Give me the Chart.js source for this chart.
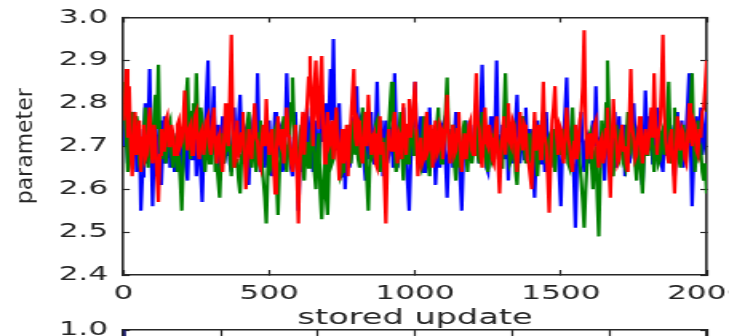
<!DOCTYPE html>
<html>
<head>
<meta charset="utf-8">
<title>parameter trace</title>
<script src="https://cdn.jsdelivr.net/npm/chart.js@4"></script>
<style>
    html, body {
        margin: 0;
        padding: 0;
        background: #fff;
        width: 729px;
        height: 336px;
        overflow: hidden;
    }
    /* both panels are drawn narrow and widened on screen */
    .panel {
        position: absolute;
        left: 0;
        transform-origin: 0 0;
    }
    canvas { display: block; }
</style>
</head>
<body>
<div class="panel" id="trace-wrap" style="top:0"><canvas id="trace" width="456" height="336"></canvas></div>
<div class="panel" id="acf-wrap" style="top:320px"><canvas id="acf" width="456" height="200"></canvas></div>
<script>
// one sample every SAMPLE_EVERY stored updates
const SAMPLE_EVERY = 5;

const xTicks = [0, 500, 1000, 1500, 2000];
const yTicks = [2.4, 2.5, 2.6, 2.7, 2.8, 2.9, 3.0];

const blueChain = [
    2.70, 2.77, 2.74, 2.66, 2.79, 2.69, 2.71, 2.78, 2.76, 2.64, 2.68, 2.74, 2.55, 2.63, 2.72, 2.80, 2.66, 2.75, 2.88, 2.70,
    2.56, 2.69, 2.74, 2.63, 2.68, 2.76, 2.61, 2.70, 2.77, 2.66, 2.70, 2.75, 2.65, 2.71, 2.73, 2.64, 2.67, 2.72, 2.75, 2.66,
    2.60, 2.74, 2.71, 2.65, 2.62, 2.73, 2.76, 2.67, 2.69, 2.75, 2.63, 2.70, 2.72, 2.64, 2.57, 2.68, 2.74, 2.82, 2.90, 2.71,
    2.66, 2.76, 2.84, 2.68, 2.70, 2.75, 2.62, 2.71, 2.77, 2.66, 2.68, 2.74, 2.73, 2.66, 2.64, 2.72, 2.79, 2.70, 2.69, 2.76,
    2.82, 2.71, 2.66, 2.73, 2.74, 2.65, 2.61, 2.70, 2.70, 2.76, 2.78, 2.69, 2.87, 2.72, 2.64, 2.71, 2.72, 2.65, 2.68, 2.74,
    2.76, 2.67, 2.63, 2.72, 2.78, 2.70, 2.69, 2.75, 2.74, 2.64, 2.66, 2.73, 2.87, 2.76, 2.71, 2.65, 2.63, 2.72, 2.78, 2.67,
    2.55, 2.66, 2.72, 2.64, 2.67, 2.75, 2.79, 2.69, 2.70, 2.77, 2.64, 2.71, 2.76, 2.66, 2.68, 2.74, 2.82, 2.71, 2.73, 2.80,
    2.66, 2.78, 2.88, 2.76, 2.95, 2.74, 2.69, 2.77, 2.80, 2.68, 2.63, 2.71, 2.60, 2.68, 2.74, 2.65, 2.67, 2.73, 2.77, 2.70,
    2.84, 2.72, 2.69, 2.76, 2.75, 2.66, 2.62, 2.70, 2.71, 2.67, 2.78, 2.70, 2.66, 2.74, 2.85, 2.72, 2.70, 2.76, 2.63, 2.71,
    2.76, 2.66, 2.68, 2.74, 2.73, 2.65, 2.87, 2.75, 2.65, 2.71, 2.74, 2.67, 2.79, 2.70, 2.67, 2.61, 2.55, 2.66, 2.72, 2.78,
    2.85, 2.73, 2.68, 2.74, 2.77, 2.69, 2.64, 2.71, 2.72, 2.66, 2.79, 2.70, 2.66, 2.73, 2.61, 2.68, 2.74, 2.65, 2.69, 2.75,
    2.76, 2.66, 2.58, 2.67, 2.71, 2.74, 2.65, 2.72, 2.78, 2.67, 2.69, 2.62, 2.55, 2.66, 2.73, 2.76, 2.67, 2.71, 2.75, 2.68,
    2.70, 2.74, 2.80, 2.69, 2.66, 2.77, 2.89, 2.75, 2.72, 2.65, 2.64, 2.71, 2.77, 2.70, 2.68, 2.76, 2.90, 2.73, 2.71, 2.66,
    2.75, 2.69, 2.67, 2.73, 2.62, 2.70, 2.74, 2.66, 2.69, 2.76, 2.82, 2.71, 2.66, 2.74, 2.73, 2.67, 2.79, 2.70, 2.68, 2.74,
    2.72, 2.65, 2.58, 2.67, 2.76, 2.70, 2.66, 2.73, 2.71, 2.64, 2.78, 2.70, 2.64, 2.72, 2.74, 2.67, 2.68, 2.75, 2.70, 2.63,
    2.56, 2.68, 2.73, 2.79, 2.86, 2.74, 2.67, 2.72, 2.75, 2.62, 2.51, 2.65, 2.70, 2.74, 2.78, 2.68, 2.64, 2.71, 2.72, 2.66,
    2.68, 2.73, 2.76, 2.70, 2.84, 2.72, 2.66, 2.71, 2.73, 2.67, 2.62, 2.70, 2.79, 2.72, 2.69, 2.65, 2.74, 2.78, 2.65, 2.71,
    2.77, 2.68, 2.70, 2.75, 2.63, 2.69, 2.75, 2.66, 2.68, 2.74, 2.80, 2.71, 2.66, 2.73, 2.72, 2.65, 2.61, 2.70, 2.83, 2.74,
    2.69, 2.77, 2.74, 2.66, 2.66, 2.73, 2.79, 2.70, 2.71, 2.66, 2.64, 2.72, 2.76, 2.68, 2.68, 2.75, 2.73, 2.67, 2.63, 2.71,
    2.78, 2.69, 2.70, 2.76, 2.65, 2.71, 2.74, 2.80, 2.87, 2.70, 2.56, 2.66, 2.72, 2.77, 2.67, 2.73, 2.79, 2.68, 2.70, 2.75,
    2.78
];

const greenChain = [
    2.85, 2.76, 2.72, 2.64, 2.66, 2.74, 2.78, 2.69, 2.70, 2.77, 2.75, 2.66, 2.64, 2.71, 2.73, 2.79, 2.68, 2.65, 2.77, 2.70,
    2.70, 2.77, 2.82, 2.74, 2.89, 2.71, 2.67, 2.72, 2.74, 2.66, 2.69, 2.75, 2.76, 2.68, 2.65, 2.71, 2.72, 2.64, 2.68, 2.62,
    2.55, 2.66, 2.74, 2.81, 2.86, 2.72, 2.67, 2.78, 2.80, 2.73, 2.87, 2.76, 2.70, 2.79, 2.76, 2.68, 2.64, 2.71, 2.72, 2.66,
    2.68, 2.73, 2.75, 2.64, 2.66, 2.62, 2.58, 2.67, 2.73, 2.66, 2.69, 2.74, 2.77, 2.68, 2.63, 2.70, 2.71, 2.65, 2.67, 2.62,
    2.59, 2.68, 2.74, 2.66, 2.70, 2.75, 2.78, 2.69, 2.65, 2.71, 2.72, 2.64, 2.68, 2.73, 2.76, 2.66, 2.62, 2.58, 2.52, 2.64,
    2.71, 2.65, 2.66, 2.73, 2.74, 2.62, 2.54, 2.64, 2.69, 2.74, 2.77, 2.67, 2.64, 2.70, 2.72, 2.80, 2.86, 2.75, 2.70, 2.66,
    2.67, 2.72, 2.75, 2.66, 2.62, 2.69, 2.71, 2.65, 2.68, 2.74, 2.76, 2.64, 2.60, 2.68, 2.73, 2.59, 2.53, 2.61, 2.66, 2.58,
    2.54, 2.65, 2.72, 2.66, 2.67, 2.74, 2.78, 2.70, 2.69, 2.63, 2.64, 2.71, 2.74, 2.67, 2.70, 2.75, 2.66, 2.71, 2.76, 2.68,
    2.71, 2.67, 2.65, 2.73, 2.79, 2.70, 2.68, 2.62, 2.55, 2.66, 2.73, 2.68, 2.69, 2.75, 2.76, 2.67, 2.64, 2.70, 2.72, 2.66,
    2.67, 2.72, 2.74, 2.80, 2.85, 2.73, 2.70, 2.64, 2.66, 2.72, 2.78, 2.68, 2.62, 2.69, 2.73, 2.66, 2.69, 2.74, 2.75, 2.68,
    2.68, 2.74, 2.72, 2.66, 2.65, 2.71, 2.77, 2.69, 2.70, 2.66, 2.63, 2.70, 2.74, 2.67, 2.69, 2.75, 2.79, 2.71, 2.66, 2.73,
    2.73, 2.79, 2.86, 2.72, 2.67, 2.70, 2.75, 2.66, 2.62, 2.69, 2.71, 2.65, 2.68, 2.74, 2.76, 2.69, 2.64, 2.70, 2.72, 2.66,
    2.69, 2.73, 2.75, 2.68, 2.66, 2.72, 2.78, 2.70, 2.71, 2.66, 2.64, 2.70, 2.73, 2.67, 2.68, 2.74, 2.76, 2.69, 2.70, 2.65,
    2.65, 2.78, 2.87, 2.74, 2.72, 2.66, 2.67, 2.73, 2.74, 2.64, 2.61, 2.68, 2.70, 2.75, 2.77, 2.69, 2.66, 2.71, 2.73, 2.67,
    2.68, 2.73, 2.75, 2.67, 2.63, 2.69, 2.71, 2.76, 2.78, 2.70, 2.66, 2.71, 2.72, 2.65, 2.69, 2.74, 2.64, 2.70, 2.76, 2.68,
    2.70, 2.74, 2.67, 2.72, 2.74, 2.66, 2.65, 2.73, 2.79, 2.71, 2.68, 2.73, 2.72, 2.66, 2.62, 2.57, 2.51, 2.60, 2.66, 2.72,
    2.73, 2.66, 2.60, 2.68, 2.70, 2.58, 2.49, 2.64, 2.76, 2.70, 2.68, 2.80, 2.90, 2.78, 2.71, 2.65, 2.63, 2.70, 2.75, 2.68,
    2.67, 2.74, 2.72, 2.66, 2.65, 2.72, 2.78, 2.70, 2.69, 2.75, 2.74, 2.66, 2.62, 2.68, 2.70, 2.64, 2.59, 2.67, 2.73, 2.68,
    2.68, 2.72, 2.76, 2.69, 2.64, 2.70, 2.71, 2.66, 2.67, 2.73, 2.74, 2.68, 2.70, 2.78, 2.85, 2.72, 2.66, 2.73, 2.79, 2.70,
    2.72, 2.67, 2.65, 2.71, 2.75, 2.69, 2.68, 2.74, 2.71, 2.80, 2.87, 2.73, 2.64, 2.70, 2.76, 2.68, 2.69, 2.64, 2.62, 2.66,
    2.59
];

const redChain = [
    2.76, 2.81, 2.88, 2.72, 2.84, 2.70, 2.63, 2.71, 2.78, 2.68, 2.70, 2.76, 2.64, 2.72, 2.75, 2.67, 2.68, 2.74, 2.79, 2.69,
    2.66, 2.75, 2.72, 2.63, 2.57, 2.68, 2.74, 2.69, 2.69, 2.76, 2.77, 2.70, 2.70, 2.75, 2.73, 2.68, 2.68, 2.75, 2.76, 2.70,
    2.71, 2.76, 2.83, 2.72, 2.69, 2.74, 2.75, 2.68, 2.70, 2.77, 2.78, 2.69, 2.67, 2.73, 2.74, 2.68, 2.71, 2.76, 2.77, 2.70,
    2.68, 2.74, 2.79, 2.70, 2.66, 2.72, 2.73, 2.67, 2.64, 2.71, 2.80, 2.72, 2.70, 2.82, 2.96, 2.74, 2.65, 2.70, 2.76, 2.68,
    2.69, 2.73, 2.78, 2.68, 2.60, 2.67, 2.74, 2.70, 2.67, 2.74, 2.80, 2.72, 2.71, 2.66, 2.65, 2.72, 2.75, 2.70, 2.81, 2.73,
    2.68, 2.72, 2.74, 2.66, 2.59, 2.69, 2.77, 2.71, 2.70, 2.74, 2.66, 2.71, 2.79, 2.73, 2.72, 2.66, 2.64, 2.70, 2.75, 2.64,
    2.52, 2.66, 2.73, 2.78, 2.68, 2.75, 2.80, 2.86, 2.91, 2.78, 2.70, 2.84, 2.90, 2.77, 2.74, 2.85, 2.91, 2.75, 2.66, 2.72,
    2.78, 2.70, 2.71, 2.76, 2.67, 2.73, 2.79, 2.68, 2.62, 2.70, 2.74, 2.66, 2.69, 2.75, 2.63, 2.71, 2.76, 2.82, 2.88, 2.72,
    2.70, 2.76, 2.75, 2.68, 2.66, 2.73, 2.78, 2.70, 2.82, 2.74, 2.68, 2.72, 2.73, 2.66, 2.65, 2.72, 2.77, 2.68, 2.71, 2.62,
    2.52, 2.66, 2.74, 2.70, 2.69, 2.75, 2.78, 2.70, 2.66, 2.73, 2.72, 2.67, 2.80, 2.73, 2.68, 2.75, 2.81, 2.72, 2.75, 2.80,
    2.85, 2.72, 2.63, 2.69, 2.72, 2.66, 2.67, 2.74, 2.78, 2.69, 2.70, 2.75, 2.65, 2.71, 2.76, 2.68, 2.69, 2.75, 2.74, 2.67,
    2.71, 2.76, 2.82, 2.72, 2.66, 2.71, 2.75, 2.68, 2.69, 2.74, 2.78, 2.70, 2.64, 2.70, 2.73, 2.67, 2.70, 2.75, 2.76, 2.69,
    2.68, 2.78, 2.87, 2.76, 2.74, 2.68, 2.65, 2.72, 2.79, 2.71, 2.70, 2.75, 2.72, 2.67, 2.66, 2.73, 2.77, 2.66, 2.59, 2.68,
    2.73, 2.77, 2.68, 2.74, 2.80, 2.71, 2.70, 2.76, 2.75, 2.68, 2.64, 2.71, 2.78, 2.72, 2.69, 2.75, 2.74, 2.67, 2.66, 2.63,
    2.60, 2.70, 2.78, 2.69, 2.71, 2.75, 2.67, 2.74, 2.85, 2.72, 2.70, 2.63, 2.545, 2.66, 2.76, 2.79, 2.84, 2.73, 2.68, 2.75,
    2.74, 2.68, 2.66, 2.73, 2.79, 2.72, 2.70, 2.66, 2.64, 2.71, 2.75, 2.67, 2.69, 2.76, 2.78, 2.84, 2.97, 2.75, 2.67, 2.71,
    2.73, 2.67, 2.70, 2.75, 2.76, 2.68, 2.65, 2.71, 2.72, 2.66, 2.68, 2.74, 2.79, 2.66, 2.58, 2.70, 2.81, 2.74, 2.71, 2.66,
    2.67, 2.72, 2.75, 2.69, 2.70, 2.66, 2.64, 2.76, 2.88, 2.74, 2.72, 2.67, 2.68, 2.73, 2.77, 2.70, 2.66, 2.71, 2.74, 2.68,
    2.70, 2.75, 2.79, 2.72, 2.87, 2.74, 2.68, 2.73, 2.75, 2.84, 2.96, 2.77, 2.71, 2.68, 2.66, 2.72, 2.74, 2.66, 2.59, 2.68,
    2.77, 2.71, 2.69, 2.74, 2.73, 2.67, 2.66, 2.72, 2.80, 2.73, 2.70, 2.76, 2.75, 2.69, 2.68, 2.74, 2.72, 2.78, 2.79, 2.84,
    2.90
];

// lower panel: autocorrelation of the chain, only its top edge shows
const acfLags = [0, 2, 4, 8, 16, 32, 64, 128, 300];
const acfValues = [1.0, 0.45, 0.25, 0.12, 0.05, 0.02, 0.0, -0.01, 0.0];
const acfLagTicks = [0, 50, 100, 150, 200, 250, 300];
const acfTicks = [0.0, 0.2, 0.4, 0.6, 0.8, 1.0];

const STRETCH = 729 / 456;
const INK = '#262626';
const FONT = 'DejaVu Sans';

document.getElementById('trace-wrap').style.transform = `scaleX(${STRETCH})`;
document.getElementById('acf-wrap').style.transform = `scaleX(${STRETCH})`;

// the y title is drawn squeezed so it comes out upright after the widening
const uprightYTitle = {
    id: 'uprightYTitle',
    afterLayout(chart) {
        const scale = chart.scales.y;
        if (!scale || scale._upright) return;
        const drawTitle = scale.drawTitle.bind(scale);
        scale.drawTitle = function () {
            const ctx = this.ctx;
            ctx.save();
            ctx.scale(1 / STRETCH, 1);
            drawTitle();
            ctx.restore();
        };
        scale._upright = true;
    }
};

function toPoints(values) {
    return values.map((y, i) => ({ x: i * SAMPLE_EVERY, y }));
}

function useTicks(list) {
    return scale => { scale.ticks = list.map(v => ({ value: v })); };
}

// top / right spines: border plus inward tick marks, no labels
function frameAxis(position, min, max, list, tickLength) {
    return {
        type: 'linear',
        position,
        min,
        max,
        afterBuildTicks: useTicks(list),
        afterFit: scale => {
            if (position === 'top') scale.height = 0;
            else scale.width = 0;
            scale.paddingLeft = scale.paddingRight = 0;
            scale.paddingTop = scale.paddingBottom = 0;
        },
        ticks: { display: false },
        grid: { drawOnChartArea: false, color: INK, tickLength, tickWidth: 1.2 },
        border: { color: INK, width: 1.6 }
    };
}

const traceChart = new Chart(document.getElementById('trace'), {
    type: 'line',
    data: {
        datasets: [
            { label: 'chain 1', data: toPoints(blueChain), borderColor: '#0000ff', order: 3 },
            { label: 'chain 2', data: toPoints(greenChain), borderColor: '#008000', order: 2 },
            { label: 'chain 3', data: toPoints(redChain), borderColor: '#ff0000', order: 1 }
        ]
    },
    options: {
        responsive: false,
        animation: false,
        layout: { padding: { top: 17.5, right: 14, bottom: 0, left: 0 } },
        elements: {
            line: { borderWidth: 2.2, tension: 0, fill: false },
            point: { radius: 0 }
        },
        plugins: { legend: { display: false }, tooltip: { enabled: false } },
        scales: {
            x: {
                type: 'linear',
                min: 0,
                max: 2000,
                afterBuildTicks: useTicks(xTicks),
                afterFit: scale => {
                    scale.height = 61;
                    scale.paddingLeft = scale.paddingRight = 0;
                },
                ticks: {
                    color: INK,
                    font: { family: FONT, size: 19.5 },
                    padding: 12,
                    maxRotation: 0,
                    autoSkip: false,
                    callback: v => String(v)
                },
                grid: { drawOnChartArea: false, color: INK, tickLength: -5, tickWidth: 1.2 },
                border: { color: INK, width: 1.6 },
                title: {
                    display: true,
                    text: 'stored update',
                    color: INK,
                    font: { family: FONT, size: 21 },
                    padding: { top: 0, bottom: 5 }
                }
            },
            y: {
                type: 'linear',
                min: 2.4,
                max: 3.0,
                afterBuildTicks: useTicks(yTicks),
                afterFit: scale => {
                    scale.width = 77.2;
                    scale.paddingTop = scale.paddingBottom = 0;
                },
                ticks: {
                    color: INK,
                    font: { family: FONT, size: 19.5 },
                    padding: 13.5,
                    autoSkip: false,
                    callback: v => v.toFixed(1)
                },
                grid: { drawOnChartArea: false, color: INK, tickLength: -4, tickWidth: 1.2 },
                border: { color: INK, width: 1.6 },
                title: {
                    display: true,
                    text: 'parameter',
                    color: INK,
                    font: { family: FONT, size: 22 },
                    padding: { top: 13, bottom: 0 }
                }
            },
            x2: frameAxis('top', 0, 2000, xTicks, -5),
            y2: frameAxis('right', 2.4, 3.0, yTicks, -4)
        }
    },
    plugins: [uprightYTitle]
});

const acfChart = new Chart(document.getElementById('acf'), {
    type: 'line',
    data: {
        datasets: [{
            label: 'autocorrelation',
            data: acfLags.map((lag, i) => ({ x: lag, y: acfValues[i] })),
            borderColor: '#14146e'
        }]
    },
    options: {
        responsive: false,
        animation: false,
        layout: { padding: { top: 10, right: 14, bottom: 10, left: 0 } },
        elements: {
            line: { borderWidth: 3, tension: 0, fill: false },
            point: { radius: 0 }
        },
        plugins: { legend: { display: false }, tooltip: { enabled: false } },
        scales: {
            x: { type: 'linear', min: 0, max: 300, display: false },
            y: {
                type: 'linear',
                min: 0,
                max: 1.0,
                afterBuildTicks: useTicks(acfTicks),
                afterFit: scale => {
                    scale.width = 77.2;
                    scale.paddingTop = scale.paddingBottom = 0;
                },
                ticks: {
                    color: INK,
                    font: { family: FONT, size: 19.5 },
                    padding: 13.5,
                    autoSkip: false,
                    callback: v => v.toFixed(1)
                },
                grid: { drawOnChartArea: false, color: INK, tickLength: -4, tickWidth: 1.2 },
                border: { color: INK, width: 1.6 }
            },
            x2: frameAxis('top', 0, 300, acfLagTicks, -6),
            y2: frameAxis('right', 0, 1.0, acfTicks, -4)
        }
    }
});
</script>
</body>
</html>
